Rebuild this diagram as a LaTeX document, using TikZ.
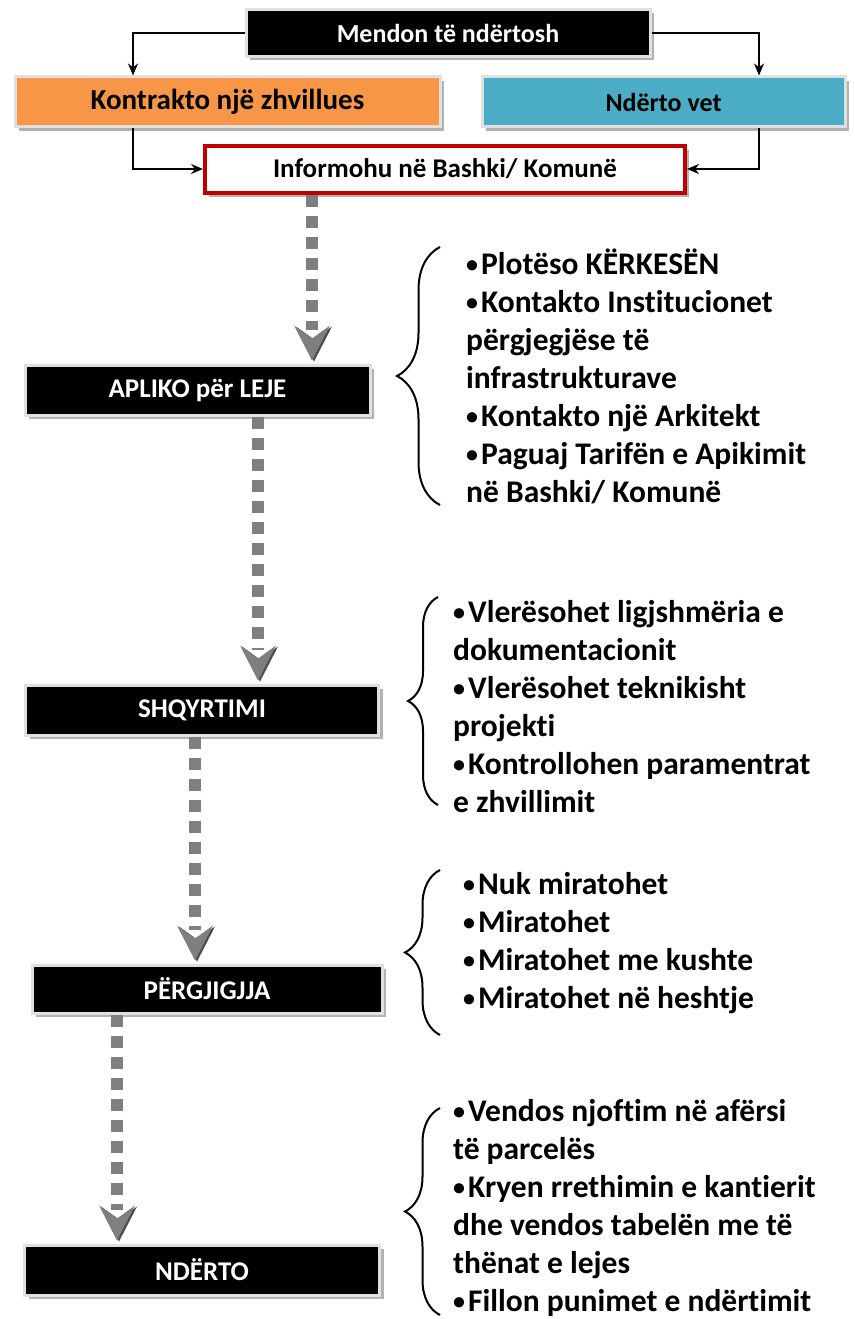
\documentclass[tikz,border=0pt]{standalone}
\usepackage{fontspec}
\setmainfont{Carlito}[Ligatures=NoCommon]
\usetikzlibrary{shadows,decorations.pathreplacing,arrows.meta,calc}
\definecolor{borange}{HTML}{F79646}
\definecolor{bblue}{HTML}{4BACC6}
\definecolor{bred}{HTML}{C00000}
\definecolor{dotgray}{HTML}{7F7F7F}
\newcommand\lbul{{\fontsize{24}{24}\selectfont\raisebox{2pt}{•}}\hspace{3pt}}
\tikzset{
  boxbase/.style={rectangle, inner sep=0pt, font=\bfseries\fontsize{27}{30}\selectfont,
    drop shadow={shadow xshift=4pt, shadow yshift=-4pt, opacity=0.3, fill=black}},
  blackbox/.style={boxbase, fill=black, text=white, draw=white!88!black, line width=3pt},
  orangebox/.style={boxbase, fill=borange, text=black, draw=white!88!black, line width=3pt},
  bluebox/.style={boxbase, fill=bblue, text=black, draw=white!88!black, line width=3pt},
  redbox/.style={boxbase, fill=white, text=black, draw=bred, line width=4pt},
  toparrow/.style={draw=black, line width=2pt, -{Stealth[length=12pt,width=10pt]}},
  dotshade/.style={draw=black, line width=12pt, dash pattern=on 12pt off 9pt, xshift=-2pt, yshift=2pt},
  dotline/.style={draw=dotgray, line width=12pt, dash pattern=on 12pt off 9pt},
  headfill/.style={fill=dotgray, draw=none},
  headshade/.style={fill=black!70, draw=none},
  bracestyle/.style={draw=black, line width=2pt, decorate},
  listtext/.style={anchor=base west, inner sep=0pt, align=left,
    font=\bfseries\fontsize{31.5}{38}\selectfont},
}
\newcommand\dotlink[3]{%
  \draw[dotshade] (#1.south -| #3) -- ($(#2.north -| #3)+(0,-34)$);
  \draw[dotline] (#1.south -| #3) -- ($(#2.north -| #3)+(0,-34)$);
  \fill[headshade] ($(#2.north -| #3)+(2,-2)$) -- ++(-18,-35) -- ++(18,13) -- ++(18,-13) -- cycle;
  \fill[headfill] ($(#2.north -| #3)+(0,-3)$) -- ++(-18,-35) -- ++(18,13) -- ++(18,-13) -- cycle;
}
\begin{document}
\begin{tikzpicture}[x=1pt,y=-1pt]
\useasboundingbox (0,0) rectangle (854,1319);
\node[blackbox, minimum width=404pt, minimum height=47pt, font=\bfseries\fontsize{26}{30}\selectfont] (men) at (448,33) {Mendon të ndërtosh};
\node[orangebox, minimum width=425pt, minimum height=50pt, font=\bfseries\fontsize{29}{32}\selectfont] (kon) at (227.5,102) {Kontrakto një zhvillues};
\node[bluebox, minimum width=363pt, minimum height=50pt, font=\bfseries\fontsize{26}{30}\selectfont] (nde) at (663.5,102) {Ndërto vet};
\node[redbox, minimum width=480pt, minimum height=47pt] (inf) at (445,169) {Informohu në Bashki/ Komunë};
\node[blackbox, minimum width=345pt, minimum height=50pt] (apl) at (197.5,390) {APLIKO për LEJE};
\node[blackbox, minimum width=353pt, minimum height=50pt] (shq) at (202,710) {SHQYRTIMI};
\node[blackbox, minimum width=350pt, minimum height=48pt] (per) at (207,989) {PËRGJIGJJA};
\node[blackbox, minimum width=355pt, minimum height=50pt] (ndt) at (202,1270) {NDËRTO};
\coordinate (ka) at (133,0);
\coordinate (kb) at (759,0);
\draw[toparrow] (men.west) -| (kon.north -| ka);
\draw[toparrow] (men.east) -| (nde.north -| kb);
\draw[toparrow] (kon.south -| ka) |- (inf.west);
\draw[toparrow] (nde.south -| kb) |- (inf.east);
\coordinate (c1) at (312,0);
\coordinate (c2) at (258,0);
\coordinate (c3) at (195,0);
\coordinate (c4) at (117,0);
\dotlink{inf}{apl}{c1}
\dotlink{apl}{shq}{c2}
\dotlink{shq}{per}{c3}
\dotlink{per}{ndt}{c4}
\draw[bracestyle, decoration={brace, amplitude=43pt}] (440,505) -- (440,247);
\draw[bracestyle, decoration={brace, amplitude=30pt}] (438,805) -- (438,597);
\draw[bracestyle, decoration={brace, amplitude=35pt}] (440,1035) -- (440,870);
\draw[bracestyle, decoration={brace, amplitude=35pt}] (440,1315) -- (440,1108);
\node[listtext] (l1) at (466,502) {\lbul Plotëso KËRKESËN\\\lbul Kontakto Institucionet\\përgjegjëse të\\infrastrukturave\\\lbul Kontakto një Arkitekt\\\lbul Paguaj Tarifën e Apikimit\\në Bashki/ Komunë};
\node[listtext] (l2) at (453,812) {\lbul Vlerësohet ligjshmëria e\\dokumentacionit\\\lbul Vlerësohet teknikisht\\projekti\\\lbul Kontrollohen paramentrat\\e zhvillimit};
\node[listtext] (l3) at (463,1008) {\lbul Nuk miratohet\\\lbul Miratohet\\\lbul Miratohet me kushte\\\lbul Miratohet në heshtje};
\node[listtext] (l4) at (453,1311) {\lbul Vendos njoftim në afërsi\\të parcelës\\\lbul Kryen rrethimin e kantierit\\dhe vendos tabelën me të\\thënat e lejes\\\lbul Fillon punimet e ndërtimit};
\end{tikzpicture}
\end{document}
